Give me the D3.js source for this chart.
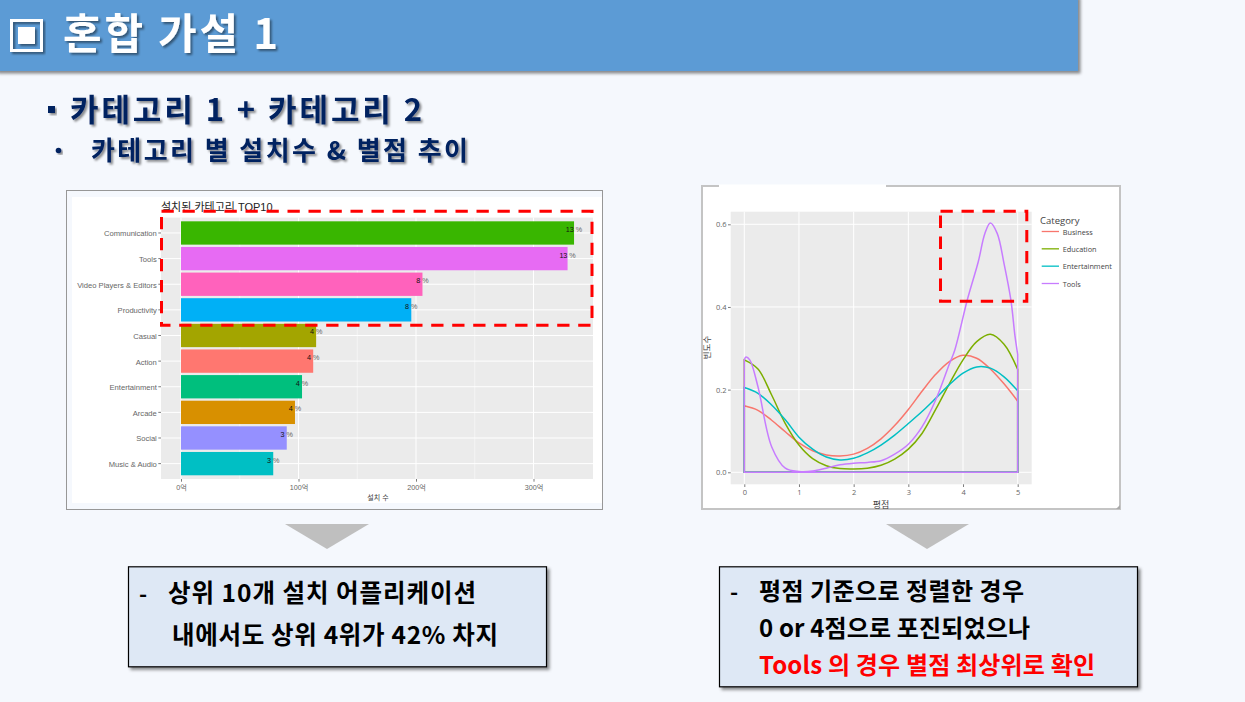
<!DOCTYPE html>
<html>
<head>
<meta charset="utf-8">
<script src="https://cdn.jsdelivr.net/npm/d3@7"></script>
<style>
html, body { margin: 0; padding: 0; background: #f5f8fd; overflow: hidden; }
text { font-family: "Noto Sans CJK KR", "Noto Sans", sans-serif; }
.plot text { font-family: "Liberation Sans", "Noto Sans CJK KR", sans-serif; }
.plot.open text { font-family: "Open Sans", "Noto Sans CJK KR", sans-serif; }
.axis path { display: none; }
.axis line { stroke: #444; stroke-width: 0.7; }
.axis text { fill: #666; }
</style>
</head>
<body>
<svg id="chart" width="1245" height="702"></svg>
<script>
// bar chart values (unit: 억)
var categories = ["Communication", "Tools", "Video Players & Editors", "Productivity", "Casual",
    "Action", "Entertainment", "Arcade", "Social", "Music & Audio"];
var installs = [334.5, 329, 205.5, 196, 115, 112.5, 103, 97, 90, 78.5];
var shares = [13, 13, 8, 8, 4, 4, 4, 4, 3, 3];
var barColors = ["#39b600", "#e76bf3", "#ff62bc", "#00b0f6", "#a3a500",
    "#ff7770", "#00bf7d", "#d89000", "#9590ff", "#00bfc4"];
var installTicks = [0, 100, 200, 300];
var installMinorTicks = [50, 150, 250];

// density curves
var ratings = [0, 0.25, 0.5, 0.75, 1, 1.25, 1.5, 1.75, 2, 2.25, 2.5, 2.75, 3, 3.25, 3.5, 3.75, 4, 4.25, 4.5, 4.75, 5];
var business = [0.161, 0.15, 0.126, 0.098, 0.071, 0.052, 0.042, 0.0395, 0.044, 0.058, 0.081, 0.113, 0.152, 0.196, 0.237, 0.268, 0.283, 0.276, 0.25, 0.214, 0.172];
var education = [0.272, 0.25, 0.187, 0.118, 0.066, 0.033, 0.016, 0.009, 0.008, 0.01, 0.017, 0.032, 0.056, 0.094, 0.152, 0.214, 0.272, 0.316, 0.334, 0.31, 0.249];
var entertainment = [0.205, 0.191, 0.163, 0.127, 0.085, 0.056, 0.037, 0.03, 0.034, 0.047, 0.066, 0.09, 0.118, 0.147, 0.179, 0.212, 0.24, 0.255, 0.252, 0.231, 0.197];
var toolsRatings = [0, 0.03, 0.1, 0.25, 0.5, 0.75, 1, 1.25, 1.5, 1.75, 2, 2.25, 2.5, 2.75, 3, 3.25, 3.5, 3.75, 3.85, 4.08, 4.28, 4.4, 4.5, 4.625, 4.75, 4.875, 4.95, 5];
var tools = [0.272, 0.279, 0.272, 0.207, 0.062, 0.01, 0.002, 0.003, 0.01, 0.018, 0.022, 0.024, 0.028, 0.044, 0.068, 0.11, 0.175, 0.262, 0.296, 0.418, 0.51, 0.578, 0.603, 0.578, 0.505, 0.417, 0.33, 0.285];
var densityNames = ["Business", "Education", "Entertainment", "Tools"];
var densityColors = ["#f8766d", "#7cae00", "#00bfc4", "#c77cff"];
var ratingTicks = [0, 1, 2, 3, 4, 5];
var densityTicks = [0, 0.2, 0.4, 0.6];

var svg = d3.select("#chart");
var defs = svg.append("defs");

function addShadow(id, dx, dy, blur, color, opacity) {
    defs.append("filter").attr("id", id)
        .attr("x", "-10%").attr("y", "-20%").attr("width", "125%").attr("height", "150%")
        .append("feDropShadow")
        .attr("dx", dx).attr("dy", dy).attr("stdDeviation", blur)
        .attr("flood-color", color).attr("flood-opacity", opacity);
}
addShadow("textShadow", 2, 2, 1.2, "#000", 0.45);
addShadow("boxShadow", 2.5, 2.5, 1.5, "#000", 0.45);

function label(x, y, str, size, color, width, weight) {
    var t = svg.append("text")
        .attr("x", x).attr("y", y)
        .attr("font-size", size)
        .attr("font-weight", weight || 700)
        .attr("fill", color)
        .text(str);
    if (width) t.attr("textLength", width).attr("lengthAdjust", "spacing");
    return t;
}

/* ------- HEADER ------- */
svg.append("rect").attr("x", -5).attr("y", -5).attr("width", 1083).attr("height", 76)
    .attr("fill", "#5b9bd5").attr("filter", "url(#boxShadow)");
var icon = svg.append("g").attr("filter", "url(#textShadow)");
icon.append("rect").attr("x", 11.5).attr("y", 20.5).attr("width", 30).attr("height", 30)
    .attr("fill", "none").attr("stroke", "#fff").attr("stroke-width", 3);
icon.append("rect").attr("x", 18).attr("y", 27).attr("width", 17).attr("height", 17).attr("fill", "#fff");
label(63, 49, "혼합 가설 1", 42, "#fff", 215).attr("filter", "url(#textShadow)");

svg.append("rect").attr("x", 48).attr("y", 106).attr("width", 7).attr("height", 7)
    .attr("fill", "#002060").attr("filter", "url(#textShadow)");
label(70, 121, "카테고리 1 + 카테고리 2", 31, "#002060", 352).attr("filter", "url(#textShadow)");
svg.append("circle").attr("cx", 58.5).attr("cy", 150.5).attr("r", 2.8)
    .attr("fill", "#002060").attr("filter", "url(#textShadow)");
label(91, 160, "카테고리 별 설치수 & 별점 추이", 26, "#002060", 377).attr("filter", "url(#textShadow)");

/* ------- BAR CHART ------- */
var bar = svg.append("g").attr("class", "plot");
bar.append("rect").attr("x", 66.5).attr("y", 190.5).attr("width", 536).attr("height", 319)
    .attr("fill", "#f5f8fd").attr("stroke", "#979797");
bar.append("rect").attr("x", 72).attr("y", 197).attr("width", 530).attr("height", 306).attr("fill", "#fff");

var barLeft = 161, barRight = 593, barTop = 217.6, barBottom = 479;
bar.append("rect").attr("x", barLeft).attr("y", barTop)
    .attr("width", barRight - barLeft).attr("height", barBottom - barTop).attr("fill", "#ebebeb");

var xBar = d3.scaleLinear().domain([0, 300]).range([181, 533.5]);
var yBar = d3.scaleBand().domain(categories).range([barTop, barBottom])
    .paddingInner(0.09).paddingOuter(0.145);

bar.selectAll("line.minor").data(installMinorTicks).enter().append("line")
    .attr("class", "minor")
    .attr("x1", xBar).attr("x2", xBar).attr("y1", barTop).attr("y2", barBottom)
    .attr("stroke", "#fff").attr("stroke-width", 0.5);
bar.selectAll("line.major").data(installTicks).enter().append("line")
    .attr("class", "major")
    .attr("x1", xBar).attr("x2", xBar).attr("y1", barTop).attr("y2", barBottom)
    .attr("stroke", "#fff").attr("stroke-width", 1);
bar.selectAll("line.hgrid").data(categories).enter().append("line")
    .attr("class", "hgrid")
    .attr("x1", barLeft).attr("x2", barRight)
    .attr("y1", function (d) { return yBar(d) + yBar.bandwidth() / 2; })
    .attr("y2", function (d) { return yBar(d) + yBar.bandwidth() / 2; })
    .attr("stroke", "#fff").attr("stroke-width", 1);

bar.selectAll("rect.bar").data(categories).enter().append("rect")
    .attr("class", "bar")
    .attr("x", xBar(0))
    .attr("y", function (d) { return yBar(d); })
    .attr("width", function (d, i) { return xBar(installs[i]) - xBar(0); })
    .attr("height", yBar.bandwidth())
    .attr("fill", function (d, i) { return barColors[i]; });

var shareLabel = bar.selectAll("text.share").data(categories).enter().append("text")
    .attr("class", "share")
    .attr("x", function (d, i) { return xBar(installs[i]); })
    .attr("y", function (d) { return yBar(d) + yBar.bandwidth() / 2 - 1; })
    .attr("text-anchor", "middle")
    .attr("font-size", 7.2);
shareLabel.append("tspan").attr("fill", "#111").text(function (d, i) { return shares[i]; });
shareLabel.append("tspan").attr("fill", "#666").text(" %");

var xBarAxis = bar.append("g").attr("class", "axis")
    .attr("transform", "translate(0," + barBottom + ")")
    .call(d3.axisBottom(xBar).tickValues(installTicks).tickSize(2.7).tickPadding(3)
        .tickFormat(function (d) { return d + "억"; }));
xBarAxis.selectAll("text").attr("font-size", 7.2);
var yBarAxis = bar.append("g").attr("class", "axis")
    .attr("transform", "translate(" + barLeft + ",0)")
    .call(d3.axisLeft(yBar).tickSize(2.7).tickPadding(1.5));
yBarAxis.selectAll("text").attr("font-size", 7.6).attr("dy", "0.45em");

bar.append("text").attr("x", 161).attr("y", 211).attr("font-size", 11).attr("fill", "#222")
    .text("설치된 카테고리 TOP10");
bar.append("text").attr("x", 378).attr("y", 500).attr("font-size", 7).attr("fill", "#444")
    .attr("text-anchor", "middle").text("설치 수");

/* ------- DENSITY CHART ------- */
var den = svg.append("g").attr("class", "plot open");
den.append("rect").attr("x", 702).attr("y", 186).attr("width", 418).attr("height", 323)
    .attr("fill", "#fff").attr("stroke", "#c4c4c4").attr("stroke-width", 2);
den.append("rect").attr("x", 719).attr("y", 184.5).attr("width", 167).attr("height", 3).attr("fill", "#fff");
den.append("path").attr("d", "M1120,505L1120,509L1116,509Z").attr("fill", "#aaa");

var denLeft = 730.7, denRight = 1031.7, denTop = 211.7, denBottom = 484.3;
den.append("rect").attr("x", denLeft).attr("y", denTop)
    .attr("width", denRight - denLeft).attr("height", denBottom - denTop).attr("fill", "#ebebeb");

var xDen = d3.scaleLinear().domain([0, 5]).range([744.3, 1017.7]);
var yDen = d3.scaleLinear().domain([0, 0.6]).range([472.3, 224.3]);

den.selectAll("line.vgrid").data(ratingTicks).enter().append("line")
    .attr("class", "vgrid")
    .attr("x1", xDen).attr("x2", xDen).attr("y1", denTop).attr("y2", denBottom)
    .attr("stroke", "#fff").attr("stroke-width", 1);
den.selectAll("line.hgrid").data(densityTicks).enter().append("line")
    .attr("class", "hgrid")
    .attr("y1", yDen).attr("y2", yDen).attr("x1", denLeft).attr("x2", denRight)
    .attr("stroke", "#fff").attr("stroke-width", 1);

var densityArea = d3.area()
    .x(function (d) { return xDen(d[0]); })
    .y0(yDen(0))
    .y1(function (d) { return yDen(d[1]); })
    .curve(d3.curveCatmullRom.alpha(0.5));

var densitySeries = [
    d3.zip(ratings, business),
    d3.zip(ratings, education),
    d3.zip(ratings, entertainment),
    d3.zip(toolsRatings, tools)
];
den.selectAll("path.density").data(densitySeries).enter().append("path")
    .attr("class", "density")
    .attr("d", densityArea)
    .attr("fill", "none")
    .attr("stroke", function (d, i) { return densityColors[i]; })
    .attr("stroke-width", 1.5);

var xDenAxis = den.append("g").attr("class", "axis")
    .attr("transform", "translate(0," + denBottom + ")")
    .call(d3.axisBottom(xDen).tickValues(ratingTicks).tickSize(2.7).tickPadding(3)
        .tickFormat(d3.format("d")));
xDenAxis.selectAll("text").attr("font-size", 7.5);
var yDenAxis = den.append("g").attr("class", "axis")
    .attr("transform", "translate(" + denLeft + ",0)")
    .call(d3.axisLeft(yDen).tickValues(densityTicks).tickSize(2.7).tickPadding(1.5)
        .tickFormat(d3.format(".1f")));
yDenAxis.selectAll("text").attr("font-size", 7.5);

den.append("text").attr("x", 881).attr("y", 508).attr("font-size", 9).attr("fill", "#444")
    .attr("text-anchor", "middle").text("평점");
den.append("text").attr("transform", "translate(710,347.5) rotate(-90)").attr("font-size", 8.5)
    .attr("fill", "#444").attr("text-anchor", "middle").text("빈도수");

// legend
den.append("text").attr("x", 1040).attr("y", 224).attr("font-size", 9.5).attr("fill", "#444")
    .text("Category");
var legendY = d3.scalePoint().domain(densityNames).range([231.5, 283.5]);
den.selectAll("line.key").data(densityNames).enter().append("line")
    .attr("class", "key")
    .attr("x1", 1041.7).attr("x2", 1059)
    .attr("y1", legendY).attr("y2", legendY)
    .attr("stroke", function (d, i) { return densityColors[i]; })
    .attr("stroke-width", 1.3);
den.selectAll("text.key").data(densityNames).enter().append("text")
    .attr("class", "key")
    .attr("x", 1062.7)
    .attr("y", function (d) { return legendY(d) + 3.2; })
    .attr("font-size", 7.3).attr("fill", "#444")
    .text(function (d) { return d; });

/* ------- RED HIGHLIGHTS ------- */
function dashBox(x, y, w, h) {
    svg.append("rect").attr("x", x).attr("y", y).attr("width", w).attr("height", h)
        .attr("fill", "none").attr("stroke", "#ff0000").attr("stroke-width", 3)
        .attr("stroke-dasharray", "12.3 8.7");
}
dashBox(161.5, 211.2, 430.5, 114);
dashBox(940.5, 211.3, 86.3, 90);

/* ------- ARROWS ------- */
svg.append("path").attr("d", "M285,524L369,524L327,549Z").attr("fill", "#bfbfbf");
svg.append("path").attr("d", "M886,524L969,524L927,549Z").attr("fill", "#bfbfbf");

/* ------- NOTE BOXES ------- */
function noteBox(x, y, w, h) {
    svg.append("rect").attr("x", x).attr("y", y).attr("width", w).attr("height", h)
        .attr("fill", "#dee8f5").attr("stroke", "#000").attr("stroke-width", 1.2)
        .attr("filter", "url(#boxShadow)");
}
noteBox(128.5, 566.8, 418, 100);
label(139, 602, "-", 22, "#000");
label(168, 602, "상위 10개 설치 어플리케이션", 24.5, "#000", 308);
label(172, 644, "내에서도 상위 4위가 42% 차지", 24.5, "#000", 326);

noteBox(719.5, 566.8, 418, 120);
label(730, 600, "-", 22, "#000");
label(759, 600, "평점 기준으로 정렬한 경우", 24, "#000", 265);
label(759, 637, "0 or 4점으로 포진되었으나", 24, "#000", 271);
label(759, 674, "Tools 의 경우 별점 최상위로 확인", 24, "#ff0000", 336);
</script>
</body>
</html>
